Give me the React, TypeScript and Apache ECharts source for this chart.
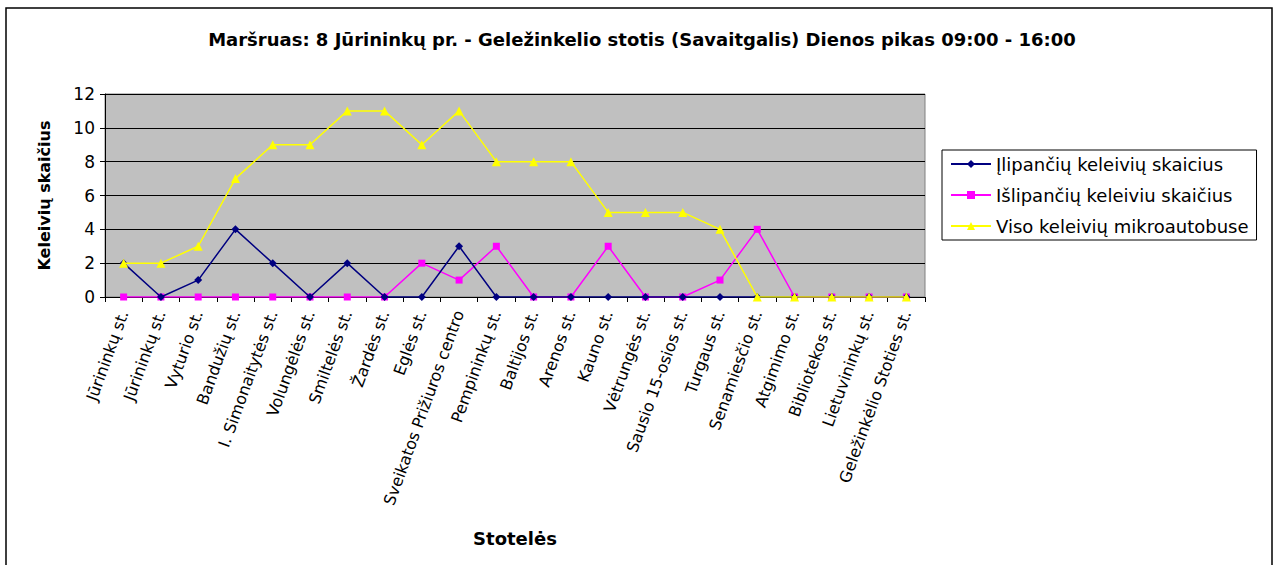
import React, { useEffect, useRef } from "react";
import * as echarts from "echarts";

const stops = [
  "Jūrininkų st.",
  "Jūrininkų st.",
  "Vyturio st.",
  "Bandužių st.",
  "I. Simonaitytės st.",
  "Volungėlės st.",
  "Smiltelės st.",
  "Žardės st.",
  "Eglės st.",
  "Sveikatos Prižiuros centro",
  "Pempininkų st.",
  "Baltijos st.",
  "Arenos st.",
  "Kauno st.",
  "Vėtrungės st.",
  "Sausio 15-osios st.",
  "Turgaus st.",
  "Senamiesčio st.",
  "Atgimimo st.",
  "Bibliotekos st.",
  "Lietuvininkų st.",
  "Geležinkėlio Stoties st.",
];

const boarding = [2, 0, 1, 4, 2, 0, 2, 0, 0, 3, 0, 0, 0, 0, 0, 0, 0, 0, 0, 0, 0, 0];
const alighting = [0, 0, 0, 0, 0, 0, 0, 0, 2, 1, 3, 0, 0, 3, 0, 0, 1, 4, 0, 0, 0, 0];
const onboard = [2, 2, 3, 7, 9, 9, 11, 11, 9, 11, 8, 8, 8, 5, 5, 5, 4, 0, 0, 0, 0, 0];

const seriesNames = [
  "Įlipančių keleivių skaicius",
  "Išlipančių keleiviu skaičius",
  "Viso keleivių mikroautobuse",
];

const FONT = "DejaVu Sans, Arial, sans-serif";

export default function App() {
  const ref = useRef<HTMLDivElement>(null);
  useEffect(() => {
    if (!ref.current) return;
    const chart = echarts.init(ref.current, null, { renderer: "svg" });
    chart.setOption({
      animation: false,
      backgroundColor: "#ffffff",
      textStyle: { fontFamily: FONT, color: "#000" },
      title: {
        text: "Maršruas: 8 Jūrininkų pr. - Geležinkelio stotis (Savaitgalis) Dienos pikas 09:00 - 16:00",
        left: 637,
        textAlign: "center",
        top: 25,
        textStyle: { fontFamily: FONT, fontSize: 18, fontWeight: "bold", color: "#000" },
      },
      graphic: [
        {
          type: "rect",
          shape: { x: 6, y: 8, width: 1266, height: 600 },
          style: { fill: "none", stroke: "#000", lineWidth: 1.5 },
          silent: true,
        },
      ],
      legend: {
        orient: "vertical",
        left: 942,
        top: 150,
        width: 323,
        padding: [5, 8, 5, 8],
        itemGap: 13,
        itemWidth: 40,
        itemHeight: 10,
        borderColor: "#000",
        borderWidth: 1,
        backgroundColor: "#fff",
        textStyle: { fontFamily: FONT, fontSize: 18, color: "#000" },
        data: seriesNames,
      },
      grid: {
        left: 105,
        top: 94,
        width: 820,
        height: 203,
        show: true,
        backgroundColor: "#C0C0C0",
        borderColor: "#808080",
        borderWidth: 1,
      },
      xAxis: {
        type: "category",
        data: stops,
        boundaryGap: true,
        name: "Stotelės",
        nameLocation: "middle",
        nameGap: 232,
        nameTextStyle: { fontFamily: FONT, fontSize: 18, fontWeight: "bold", color: "#000" },
        axisLine: { lineStyle: { color: "#000", width: 1 } },
        axisTick: { show: true, alignWithLabel: false, length: 5, lineStyle: { color: "#000" } },
        axisLabel: {
          interval: 0,
          rotate: 70,
          fontFamily: FONT,
          fontSize: 16,
          color: "#000",
          margin: 14,
        },
        splitLine: { show: false },
      },
      yAxis: {
        type: "value",
        min: 0,
        max: 12,
        interval: 2,
        name: "Keleivių skaičius",
        nameLocation: "middle",
        nameGap: 53,
        nameTextStyle: { fontFamily: FONT, fontSize: 16, fontWeight: "bold", color: "#000" },
        axisLine: { show: true, lineStyle: { color: "#000", width: 1 } },
        axisTick: { show: true, length: 5, lineStyle: { color: "#000" } },
        axisLabel: { fontFamily: FONT, fontSize: 17, color: "#000", margin: 10 },
        splitLine: { show: true, lineStyle: { color: "#000", width: 1 } },
      },
      series: [
        {
          name: seriesNames[0],
          type: "line",
          data: boarding,
          symbol: "diamond",
          symbolSize: 8,
          color: "#000080",
          lineStyle: { width: 1.5, color: "#000080" },
          itemStyle: { color: "#000080" },
          z: 4,
        },
        {
          name: seriesNames[1],
          type: "line",
          data: alighting,
          symbol: "rect",
          symbolSize: 7,
          color: "#FF00FF",
          lineStyle: { width: 1.5, color: "#FF00FF" },
          itemStyle: { color: "#FF00FF" },
          z: 3,
        },
        {
          name: seriesNames[2],
          type: "line",
          data: onboard,
          symbol: "triangle",
          symbolSize: 9,
          color: "#FFFF00",
          lineStyle: { width: 1.5, color: "#FFFF00" },
          itemStyle: { color: "#FFFF00" },
          z: 5,
        },
      ],
    });
    return () => chart.dispose();
  }, []);
  return (
    <div
      ref={ref}
      style={{ position: "fixed", left: 0, top: 0, width: 1280, height: 565 }}
    />
  );
}
